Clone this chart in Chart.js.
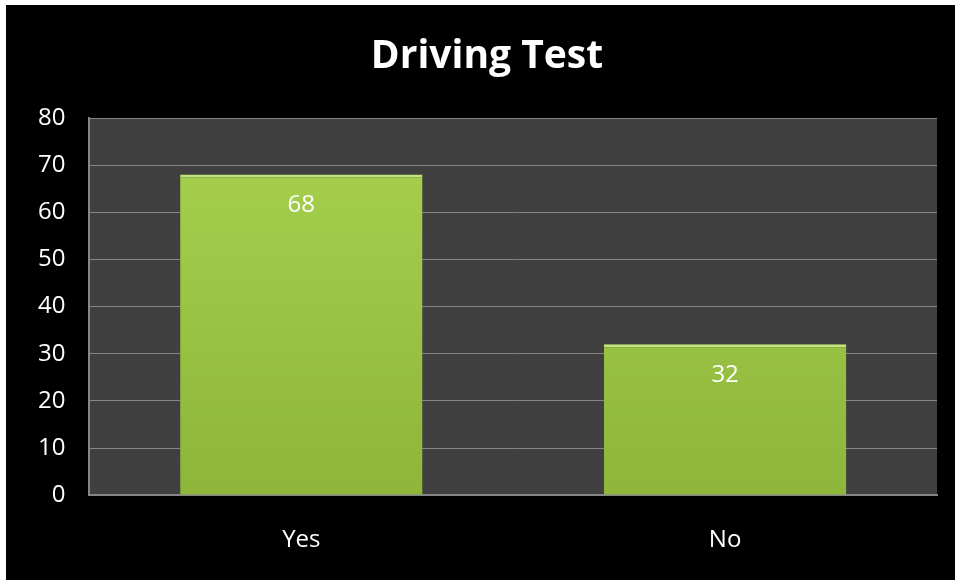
<!DOCTYPE html>
<html>
<head>
<meta charset="utf-8">
<script src="https://cdn.jsdelivr.net/npm/chart.js@4"></script>
<style>
  html, body { margin: 0; padding: 0; background: #ffffff; }
  #box { position: absolute; left: 6px; top: 5px; width: 949px; height: 575px; background: #000000; }
  canvas { display: block; }
</style>
</head>
<body>
<div id="box"><canvas id="chart" width="949" height="575"></canvas></div>
<script>
// данные
const categories = ["Yes", "No"];
const values = [68, 32];
const yTicks = [0, 10, 20, 30, 40, 50, 60, 70, 80];
const titleText = "Driving Test";

const FONT = "'Open Sans', sans-serif";

// фон области построения
const plotBg = {
  id: "plotBg",
  beforeDraw(chart) {
    const { ctx, chartArea: a } = chart;
    ctx.save();
    ctx.fillStyle = "#404040";
    ctx.fillRect(a.left, a.top, a.right - a.left, a.bottom - a.top);
    ctx.restore();
  },
};

// заголовок (смещён вправо, как в оригинале)
const titlePlugin = {
  id: "titlePlugin",
  afterDraw(chart) {
    const { ctx } = chart;
    ctx.save();
    ctx.fillStyle = "#ffffff";
    ctx.font = "bold 39px " + FONT;
    ctx.textAlign = "center";
    ctx.textBaseline = "middle";
    ctx.fillText(titleText, 481, 52);
    ctx.restore();
  },
};

// подписи значений внутри столбцов
const valueLabels = {
  id: "valueLabels",
  afterDatasetsDraw(chart) {
    const { ctx } = chart;
    const meta = chart.getDatasetMeta(0);
    ctx.save();
    ctx.fillStyle = "#ffffff";
    ctx.font = "24px " + FONT;
    ctx.textAlign = "center";
    ctx.textBaseline = "middle";
    meta.data.forEach((bar, i) => {
      ctx.fillText(String(values[i]), bar.x, bar.y + 31);
    });
    ctx.restore();
  },
};

function barGradient(context) {
  const chart = context.chart;
  const a = chart.chartArea;
  if (!a) return "#9bc744";
  const g = chart.ctx.createLinearGradient(0, a.top, 0, a.bottom);
  g.addColorStop(0, "#a8d24f");
  g.addColorStop(1, "#8db63a");
  return g;
}

new Chart(document.getElementById("chart"), {
  type: "bar",
  data: {
    labels: categories,
    datasets: [
      {
        data: values,
        backgroundColor: barGradient,
        borderColor: "#c2e27a",
        borderWidth: { top: 3, left: 0, right: 0, bottom: 0 },
        borderSkipped: false,
        categoryPercentage: 1,
        barPercentage: 0.572,
      },
    ],
  },
  options: {
    responsive: false,
    animation: false,
    layout: { padding: { left: 8, right: 18, top: 113, bottom: -6 } },
    plugins: {
      legend: { display: false },
      tooltip: { enabled: false },
      title: { display: false },
    },
    scales: {
      x: {
        grid: { display: false, drawTicks: false },
        border: { color: "#868686", width: 2 },
        ticks: { color: "#ffffff", font: { family: FONT, size: 24 }, padding: 31 },
      },
      y: {
        min: 0,
        max: 80,
        afterBuildTicks: (scale) => {
          scale.ticks = yTicks.map((v) => ({ value: v }));
        },
        grid: { color: "#868686", lineWidth: 1, drawTicks: false },
        border: { color: "#868686", width: 2 },
        ticks: { color: "#ffffff", font: { family: FONT, size: 24 }, padding: 24 },
      },
    },
  },
  plugins: [plotBg, titlePlugin, valueLabels],
});
</script>
</body>
</html>
